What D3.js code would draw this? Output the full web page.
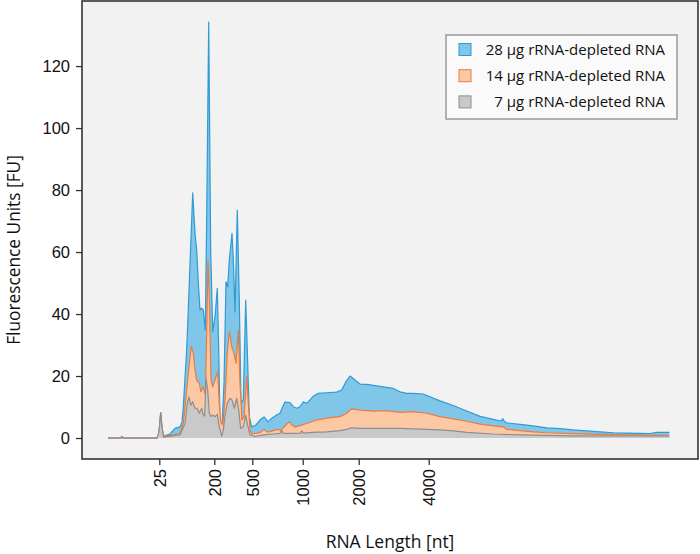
<!DOCTYPE html>
<html>
<head>
<meta charset="utf-8">
<script src="https://cdn.jsdelivr.net/npm/d3@7"></script>
<style>
  body { margin: 0; background: #fff; }
  svg { display: block; }
</style>
</head>
<body>
<svg width="700" height="554"></svg>
<script>

// migration time [s] vs fluorescence [FU]
const rna28 = [
    [17.6, 0], [19.0, 0], [20.8, 0], [22.5, 0], [22.7, 1], [22.87, 8.1], [23.0, 3.2], [23.15, 0.6],
    [23.8, 1.3], [24.3, 3.1], [24.8, 3.6], [25.0, 5.2], [25.13, 10.1], [25.47, 28.4], [25.73, 49.9],
    [26.07, 79.1], [26.3, 66.1], [26.47, 60.6], [26.63, 50], [26.8, 41.3], [26.97, 41.9], [27.13, 41.3],
    [27.33, 34.8], [27.47, 71.4], [27.67, 134.2], [27.87, 60.6], [28.07, 34.3], [28.3, 39.1],
    [28.53, 48.3], [28.67, 28.4], [28.8, 5.3], [29.0, 3.6], [29.2, 17.6], [29.4, 50.4], [29.57, 48.8],
    [29.73, 57.4], [30.0, 66], [30.13, 57.4], [30.3, 40.7], [30.53, 73.5], [30.73, 44.5], [30.9, 11.2],
    [31.13, 12.3], [31.37, 44.5], [31.53, 28.4], [31.73, 6.9], [31.97, 3.6], [32.4, 4.2], [32.8, 5.8],
    [33.2, 6.8], [33.4, 6.1], [33.6, 5.2], [33.97, 6.4], [34.47, 7.4], [34.8, 8.0], [35.07, 10.1],
    [35.3, 11.6], [35.8, 11.4], [36.13, 10.1], [36.47, 9.6], [36.8, 10.1], [37.13, 11.7], [37.47, 11.2],
    [37.8, 12.3], [38.13, 13.5], [38.63, 14.4], [39.47, 14.6], [40.47, 14.8], [40.97, 15.5], [41.4, 18.2],
    [41.8, 20], [42.3, 18.7], [42.8, 17.4], [43.47, 17.3], [44.13, 17], [45.13, 16.5], [46.13, 16],
    [46.8, 14.9], [47.47, 14.4], [48.13, 14.4], [49.13, 14.2], [49.8, 13.3], [50.8, 12], [52.13, 10.5],
    [53.47, 8.7], [54.8, 7], [56.13, 6], [56.87, 5.5], [57.07, 6.2], [57.27, 5.2], [57.47, 4.9],
    [58.8, 4.4], [60.13, 3.9], [61.47, 3.3], [62.8, 3.0], [64.13, 2.6], [65.47, 2.3], [66.8, 2.0],
    [68.13, 1.7], [69.47, 1.6], [70.8, 1.5], [71.8, 1.45], [72.47, 1.8], [73.73, 1.8]
];

const rna14 = [
    [17.6, 0], [18.8, 0], [19.0, 0.5], [19.2, 0], [22.5, 0], [22.7, 1.9], [22.87, 8.1], [23.0, 3.2],
    [23.15, 0.5], [24.13, 1], [24.8, 1.5], [25.13, 4.7], [25.47, 15.5], [25.73, 24.1], [25.93, 29.5],
    [26.13, 27.3], [26.3, 21.9], [26.47, 18.7], [26.73, 17.6], [26.9, 14.9], [27.13, 16.5], [27.33, 13.9],
    [27.47, 33.8], [27.6, 57.4], [27.73, 44.5], [27.9, 18.7], [28.07, 16.5], [28.3, 18.7], [28.57, 21.4],
    [28.73, 11.2], [28.87, 5.3], [29.07, 4.2], [29.3, 12.3], [29.53, 27.3], [29.73, 34.3], [29.97, 29.5],
    [30.2, 27.3], [30.4, 24.1], [30.63, 34.8], [30.8, 17.6], [31.0, 5.8], [31.2, 6.9], [31.47, 19.8],
    [31.63, 11.2], [31.8, 2.6], [32.0, 1.3], [32.8, 1.7], [33.2, 2.8], [33.47, 2.0], [33.73, 2.0],
    [34.1, 2.4], [34.63, 2.8], [34.87, 2.4], [35.07, 3.1], [35.47, 4.5], [35.73, 5.2], [35.97, 4.2],
    [36.3, 3.6], [36.8, 4.0], [37.47, 4.7], [38.47, 5.8], [39.47, 6.4], [40.8, 6.9], [41.47, 8.0],
    [41.97, 9.4], [42.8, 9.0], [44.13, 8.7], [45.47, 8.8], [46.8, 8.3], [48.13, 8.5], [49.47, 8.0],
    [50.8, 6.9], [52.13, 6.2], [53.47, 5.4], [54.8, 4.5], [56.13, 3.9], [57.13, 3.6], [57.47, 2.8],
    [58.8, 2.4], [60.13, 2.0], [61.47, 1.7], [64.13, 1.4], [66.8, 1.2], [69.47, 1.0], [73.73, 0.9]
];

const rna7 = [
    [17.6, 0], [18.8, 0], [19.0, 0.3], [19.2, 0], [22.5, 0], [22.7, 1.9], [22.87, 8.1], [23.0, 3.2],
    [23.15, 0.3], [24.8, 1.0], [25.3, 4.7], [25.53, 11.2], [25.7, 13.3], [25.87, 10.6], [26.07, 11.7],
    [26.3, 9.6], [26.5, 9.6], [26.73, 8.0], [26.97, 9.6], [27.13, 7.4], [27.27, 7.1], [27.4, 19.3],
    [27.57, 15.5], [27.73, 8.0], [27.9, 6.9], [28.07, 7.4], [28.3, 6.9], [28.53, 7.6], [28.73, 3.6],
    [28.97, 0.6], [29.13, 2.6], [29.33, 8.0], [29.53, 11.2], [29.8, 12.8], [30.0, 12.3], [30.23, 9.6],
    [30.47, 12.8], [30.67, 9.0], [30.87, 3.1], [31.13, 3.6], [31.37, 7.4], [31.53, 4.7], [31.8, 1.0],
    [32.3, 0.5], [33.13, 1.0], [34.1, 1.3], [34.8, 1.5], [34.97, 2.4], [35.1, 1.5], [36.13, 1.5],
    [36.85, 1.6], [36.97, 2.3], [37.13, 1.6], [38.1, 1.8], [39.47, 2.0], [40.8, 2.4], [41.47, 2.8],
    [41.97, 3.3], [42.8, 3.1], [44.13, 3.1], [46.8, 3.1], [49.47, 2.8], [50.8, 2.6], [52.13, 2.3],
    [53.47, 1.8], [56.13, 1.3], [58.8, 1.0], [64.13, 0.7], [73.73, 0.65]
];

// ladder: size [nt] and the migration time it sits at
const ladderNt = [25, 200, 500, 1000, 2000, 4000];
const ladderTime = [22.73, 28.23, 32.03, 37.07, 42.67, 49.67];

const yTicks = [0, 20, 40, 60, 80, 100, 120];
const seriesNames = ['28 µg rRNA-depleted RNA', '14 µg rRNA-depleted RNA', '7 µg rRNA-depleted RNA'];

const series = [
    { data: rna28, fill: '#80c6e8', stroke: '#2e9bd6' },
    { data: rna14, fill: '#fdc9a5', stroke: '#ee7a3a' },
    { data: rna7, fill: '#c9c9c9', stroke: '#8e8e8e' }
];

const margin = { top: 1, left: 82 };
const width = 616, height = 458;

const svg = d3.select('svg');
const g = svg.append('g').attr('transform', `translate(${margin.left}, ${margin.top})`);

const x = d3.scaleLinear().domain([15, 76.6]).range([0, width]);
const y = d3.scaleLinear().domain([-6.77, 141]).range([height, 0]);

// plot background
g.append('rect')
    .attr('width', width)
    .attr('height', height)
    .style('fill', '#f2f2f2');

const area = d3.area()
    .x(d => x(d[0]))
    .y0(y(0))
    .y1(d => y(d[1]));
const line = d3.line()
    .x(d => x(d[0]))
    .y(d => y(d[1]));

series.forEach(s => {
    g.append('path')
        .datum(s.data)
        .attr('d', area)
        .style('fill', s.fill);
    g.append('path')
        .datum(s.data)
        .attr('d', line)
        .style('fill', 'none')
        .style('stroke', s.stroke)
        .style('stroke-width', 1.2)
        .style('stroke-linejoin', 'round');
});

// axes
const yAxis = g.append('g')
    .call(d3.axisLeft(y).tickValues(yTicks).tickSize(6).tickPadding(6));
const xAxis = g.append('g')
    .attr('transform', `translate(0, ${height})`)
    .call(d3.axisBottom(x).tickValues(ladderTime).tickSize(6)
        .tickFormat((d, i) => ladderNt[i]));

[xAxis, yAxis].forEach(a => {
    a.select('.domain').remove();
    a.selectAll('line').style('stroke', '#333').style('stroke-width', 1.3);
    a.selectAll('text')
        .style('font-family', '"Liberation Sans", Arial, sans-serif')
        .style('font-size', '16.5px')
        .style('fill', '#111');
});

xAxis.selectAll('text')
    .attr('transform', 'rotate(-90)')
    .attr('x', -10)
    .attr('y', 0)
    .attr('dy', '0.35em')
    .style('text-anchor', 'end');

// frame
g.append('rect')
    .attr('width', width)
    .attr('height', height)
    .style('fill', 'none')
    .style('stroke', '#333')
    .style('stroke-width', 1.6);

// axis titles
svg.append('text')
    .attr('transform', `translate(14, 250) rotate(-90)`)
    .attr('dy', '0.35em')
    .style('text-anchor', 'middle')
    .style('font-family', '"Open Sans", sans-serif')
    .style('font-size', '17.3px')
    .style('fill', '#111')
    .text('Fluorescence Units [FU]');

svg.append('text')
    .attr('x', 390)
    .attr('y', 542)
    .attr('dy', '0.35em')
    .style('text-anchor', 'middle')
    .style('font-family', '"Open Sans", sans-serif')
    .style('font-size', '17.5px')
    .style('fill', '#111')
    .text('RNA Length [nt]');

// legend
const legend = svg.append('g').attr('transform', 'translate(446, 35)');
legend.append('rect')
    .attr('width', 231)
    .attr('height', 84)
    .style('fill', '#fafafa')
    .style('stroke', '#9a9a9a')
    .style('stroke-width', 1.5);

const rows = legend.selectAll('g.row')
    .data(series)
    .enter()
    .append('g')
    .attr('class', 'row')
    .attr('transform', (d, i) => `translate(0, ${14.5 + i * 26.2})`);
rows.append('rect')
    .attr('x', 13)
    .attr('y', -6)
    .attr('width', 12)
    .attr('height', 12)
    .style('fill', d => d.fill)
    .style('stroke', d => d.stroke)
    .style('stroke-width', 1);
rows.append('text')
    .attr('x', 219)
    .attr('dy', '0.35em')
    .style('text-anchor', 'end')
    .style('font-family', '"Open Sans", sans-serif')
    .style('font-size', '15px')
    .style('fill', '#111')
    .text((d, i) => seriesNames[i]);

</script>
</body>
</html>
